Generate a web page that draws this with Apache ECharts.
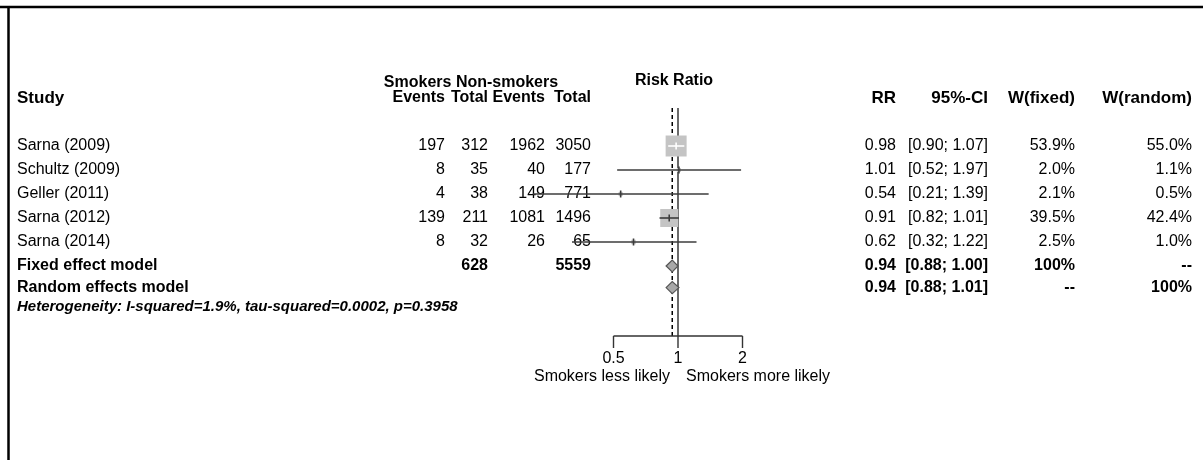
<!DOCTYPE html>
<html>
<head>
<meta charset="utf-8">
<script src="https://cdn.jsdelivr.net/npm/echarts@6/dist/echarts.min.js"></script>
<style>
    html, body { margin: 0; padding: 0; background: #fff; }
    #main { width: 1203px; height: 460px; }
</style>
</head>
<body>
<div id="main"></div>
<script>
    // study data
    var studies = ['Sarna (2009)', 'Schultz (2009)', 'Geller (2011)', 'Sarna (2012)', 'Sarna (2014)']
    var smkEvents = [197, 8, 4, 139, 8]
    var smkTotal = [312, 35, 38, 211, 32]
    var nonEvents = [1962, 40, 149, 1081, 26]
    var nonTotal = [3050, 177, 771, 1496, 65]
    var rr = [0.98, 1.01, 0.54, 0.91, 0.62]
    var ciLow = [0.90, 0.52, 0.21, 0.82, 0.32]
    var ciHigh = [1.07, 1.97, 1.39, 1.01, 1.22]
    var wFixed = [53.9, 2.0, 2.1, 39.5, 2.5]
    var wRandom = [55.0, 1.1, 0.5, 42.4, 1.0]

    // pooled estimates
    var models = ['Fixed effect model', 'Random effects model']
    var modelRR = [0.94, 0.94]
    var modelLow = [0.88, 0.88]
    var modelHigh = [1.00, 1.01]
    var modelWFixed = ['100%', '--']
    var modelWRandom = ['--', '100%']
    var totals = [628, 5559]
    var heterogeneity = 'Heterogeneity: I-squared=1.9%, tau-squared=0.0002, p=0.3958'

    var axisTicks = [0.5, 1, 2]
    var axisLabels = ['Smokers less likely', 'Smokers more likely']

    // layout (pixels / row units)
    var ROW0 = 146, ROWH = 24
    var SUMMARY_START = 1.0, SUMMARY_STEP = 0.9, HET_STEP = 0.8
    var TOP_ROW = (108 - ROW0) / ROWH
    var AXIS_ROW = (336 - ROW0) / ROWH
    var BOX_K = 21 / Math.sqrt(53.9)
    var F_REG = '16px "Liberation Sans", Arial, sans-serif'
    var F_BOLD = 'bold 16px "Liberation Sans", Arial, sans-serif'
    var F_HDR = 'bold 17px "Liberation Sans", Arial, sans-serif'
    var F_HET = 'italic bold 15px "Liberation Sans", Arial, sans-serif'
    var COL = { study: 17, smkEv: 445, smkTot: 488, nonEv: 545, nonTot: 591, rr: 896, ci: 988, wf: 1075, wr: 1192 }

    function summaryRow (k) {
        return studies.length - 1 + SUMMARY_START + SUMMARY_STEP * k
    }
    function fmtCI (lo, hi) {
        return '[' + lo.toFixed(2) + '; ' + hi.toFixed(2) + ']'
    }

    // table text
    var texts = []
    function addText (x, row, text, align, font) {
        texts.push({ x: x, row: row, text: String(text), align: align, font: font })
    }
    var hdr = -2
    addText(COL.study, hdr, 'Study', 'left', F_HDR)
    addText(COL.smkEv, hdr, 'Events', 'right', F_BOLD)
    addText(COL.smkTot, hdr, 'Total', 'right', F_BOLD)
    addText(COL.nonEv, hdr, 'Events', 'right', F_BOLD)
    addText(COL.nonTot, hdr, 'Total', 'right', F_BOLD)
    addText(471, hdr - 0.65, 'Smokers Non-smokers', 'center', F_BOLD)
    addText(674, hdr - 0.72, 'Risk Ratio', 'center', F_BOLD)
    addText(COL.rr, hdr, 'RR', 'right', F_HDR)
    addText(COL.ci, hdr, '95%-CI', 'right', F_HDR)
    addText(COL.wf, hdr, 'W(fixed)', 'right', F_HDR)
    addText(COL.wr, hdr, 'W(random)', 'right', F_HDR)

    studies.forEach(function (s, i) {
        addText(COL.study, i, s, 'left', F_REG)
        addText(COL.smkEv, i, smkEvents[i], 'right', F_REG)
        addText(COL.smkTot, i, smkTotal[i], 'right', F_REG)
        addText(COL.nonEv, i, nonEvents[i], 'right', F_REG)
        addText(COL.nonTot, i, nonTotal[i], 'right', F_REG)
        addText(COL.rr, i, rr[i].toFixed(2), 'right', F_REG)
        addText(COL.ci, i, fmtCI(ciLow[i], ciHigh[i]), 'right', F_REG)
        addText(COL.wf, i, wFixed[i].toFixed(1) + '%', 'right', F_REG)
        addText(COL.wr, i, wRandom[i].toFixed(1) + '%', 'right', F_REG)
    })
    models.forEach(function (m, k) {
        var row = summaryRow(k)
        addText(COL.study, row, m, 'left', F_BOLD)
        addText(COL.rr, row, modelRR[k].toFixed(2), 'right', F_BOLD)
        addText(COL.ci, row, fmtCI(modelLow[k], modelHigh[k]), 'right', F_BOLD)
        addText(COL.wf, row, modelWFixed[k], 'right', F_BOLD)
        addText(COL.wr, row, modelWRandom[k], 'right', F_BOLD)
    })
    addText(COL.smkTot, summaryRow(0), totals[0], 'right', F_BOLD)
    addText(COL.nonTot, summaryRow(0), totals[1], 'right', F_BOLD)
    addText(COL.study, summaryRow(1) + HET_STEP, heterogeneity, 'left', F_HET)

    var yMin = -ROW0 / ROWH
    var yMax = (460 - ROW0) / ROWH
    var yAxisBase = { type: 'value', inverse: true, min: yMin, max: yMax, show: false }

    var option = {
        animation: false,
        grid: [
            { left: 0, top: 0, width: 1203, height: 460 },
            { left: 678 - 3 * 64.5, top: 0, width: 5 * 64.5, height: 460 }
        ],
        xAxis: [
            { type: 'value', gridIndex: 0, min: 0, max: 1203, show: false },
            { type: 'log', logBase: 2, gridIndex: 1, min: 0.125, max: 4, show: false }
        ],
        yAxis: [
            Object.assign({ gridIndex: 0 }, yAxisBase),
            Object.assign({ gridIndex: 1 }, yAxisBase)
        ],
        graphic: [
            { type: 'line', shape: { x1: 0, y1: 7, x2: 1203, y2: 7 }, style: { stroke: '#000', lineWidth: 2.5 } },
            { type: 'line', shape: { x1: 8.5, y1: 6, x2: 8.5, y2: 460 }, style: { stroke: '#000', lineWidth: 2.5 } }
        ],
        series: [
            {
                // table text
                type: 'custom',
                xAxisIndex: 0, yAxisIndex: 0,
                silent: true,
                data: texts.map(function (t) { return [t.x, t.row] }),
                renderItem: function (params, api) {
                    var t = texts[params.dataIndex]
                    var p = api.coord([api.value(0), api.value(1)])
                    return {
                        type: 'text',
                        style: { text: t.text, x: p[0], y: p[1], align: t.align, verticalAlign: 'middle', font: t.font, fill: '#000' }
                    }
                }
            },
            {
                // reference lines: no effect (solid) and fixed estimate (dashed)
                type: 'custom',
                xAxisIndex: 1, yAxisIndex: 1,
                silent: true,
                z: 1,
                data: [[1, 0], [modelRR[0], 1]],
                renderItem: function (params, api) {
                    var a = api.coord([api.value(0), TOP_ROW])
                    var b = api.coord([api.value(0), AXIS_ROW])
                    var dashed = api.value(1) === 1
                    return {
                        type: 'line',
                        shape: { x1: a[0], y1: a[1], x2: b[0], y2: b[1] },
                        style: { stroke: dashed ? '#000' : '#444', lineWidth: dashed ? 1.5 : 1.6, lineDash: dashed ? [4, 3] : null }
                    }
                }
            },
            {
                // axis bracket, ticks and labels
                type: 'custom',
                xAxisIndex: 1, yAxisIndex: 1,
                silent: true,
                z: 1,
                data: axisTicks.map(function (v) { return [v, AXIS_ROW] }),
                renderItem: function (params, api) {
                    var p = api.coord([api.value(0), api.value(1)])
                    var kids = [
                        { type: 'line', shape: { x1: p[0], y1: p[1], x2: p[0], y2: p[1] + 12 }, style: { stroke: '#333', lineWidth: 1.4 } },
                        { type: 'text', style: { text: String(axisTicks[params.dataIndex]), x: p[0], y: p[1] + 23, align: 'center', verticalAlign: 'middle', font: F_REG, fill: '#000' } }
                    ]
                    if (params.dataIndex === 0) {
                        var e = api.coord([axisTicks[axisTicks.length - 1], api.value(1)])
                        var m = api.coord([1, api.value(1)])
                        kids.push({ type: 'line', shape: { x1: p[0], y1: p[1], x2: e[0], y2: e[1] }, style: { stroke: '#333', lineWidth: 1.4 } })
                        kids.push({ type: 'text', style: { text: axisLabels[0], x: m[0] - 8, y: p[1] + 41, align: 'right', verticalAlign: 'middle', font: F_REG, fill: '#000' } })
                        kids.push({ type: 'text', style: { text: axisLabels[1], x: m[0] + 8, y: p[1] + 41, align: 'left', verticalAlign: 'middle', font: F_REG, fill: '#000' } })
                    }
                    return { type: 'group', children: kids }
                }
            },
            {
                // pooled diamonds
                type: 'custom',
                xAxisIndex: 1, yAxisIndex: 1,
                silent: true,
                z: 3,
                data: models.map(function (m, k) { return [modelLow[k], modelHigh[k], modelRR[k], summaryRow(k)] }),
                encode: { x: [0, 1, 2], y: 3 },
                renderItem: function (params, api) {
                    var row = api.value(3)
                    var l = api.coord([api.value(0), row])
                    var h = api.coord([api.value(1), row])
                    var c = api.coord([api.value(2), row])
                    return {
                        type: 'polygon',
                        shape: { points: [[l[0], l[1]], [c[0], c[1] - 6], [h[0], h[1]], [c[0], c[1] + 6]] },
                        style: { fill: '#a8a8a8', stroke: '#555', lineWidth: 1.2 }
                    }
                }
            },
            {
                // study squares and confidence intervals
                type: 'custom',
                xAxisIndex: 1, yAxisIndex: 1,
                silent: true,
                z: 3,
                data: studies.map(function (s, i) { return [ciLow[i], ciHigh[i], rr[i], i, wFixed[i]] }),
                encode: { x: [0, 1, 2], y: 3 },
                renderItem: function (params, api) {
                    var row = api.value(3)
                    var l = api.coord([api.value(0), row])
                    var h = api.coord([api.value(1), row])
                    var c = api.coord([api.value(2), row])
                    var s = BOX_K * Math.sqrt(api.value(4))
                    var inside = l[0] >= c[0] - s / 2 && h[0] <= c[0] + s / 2
                    var col = inside ? '#fff' : '#3c3c3c'
                    return {
                        type: 'group',
                        children: [
                            { type: 'rect', shape: { x: c[0] - s / 2, y: c[1] - s / 2, width: s, height: s }, style: { fill: '#c4c4c4' } },
                            { type: 'line', shape: { x1: l[0], y1: l[1], x2: h[0], y2: h[1] }, style: { stroke: col, lineWidth: 1.6 } },
                            { type: 'line', shape: { x1: c[0], y1: c[1] - 3.5, x2: c[0], y2: c[1] + 3.5 }, style: { stroke: col, lineWidth: 1.6 } }
                        ]
                    }
                }
            }
        ]
    }

    var chart = echarts.init(document.getElementById('main'), null, { renderer: 'canvas' })
    chart.setOption(option)
</script>
</body>
</html>
